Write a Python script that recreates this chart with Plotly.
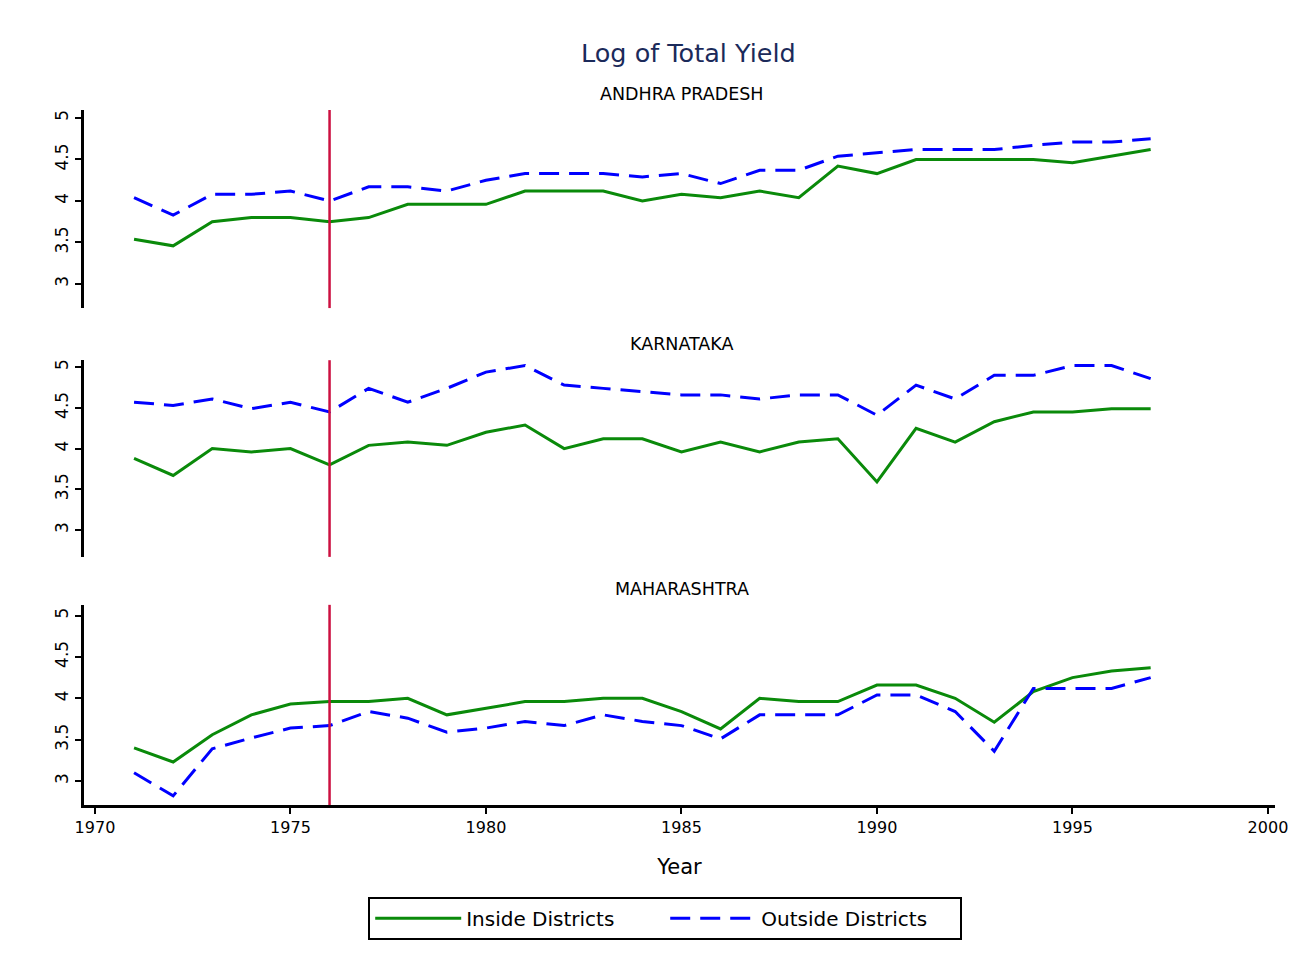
import plotly.graph_objects as go

years = list(range(1971, 1998))
event_year = 1976

ap_inside = [3.54, 3.46, 3.75, 3.80, 3.80, 3.75, 3.80, 3.96, 3.96, 3.96, 4.12, 4.12, 4.12, 4.00,
             4.08, 4.04, 4.12, 4.04, 4.42, 4.33, 4.50, 4.50, 4.50, 4.50, 4.46, 4.54, 4.62]
ap_outside = [4.04, 3.83, 4.08, 4.08, 4.12, 4.00, 4.17, 4.17, 4.12, 4.25, 4.33, 4.33, 4.33, 4.29,
              4.33, 4.21, 4.37, 4.37, 4.54, 4.58, 4.62, 4.62, 4.62, 4.67, 4.71, 4.71, 4.75]
ka_inside = [3.88, 3.67, 4.00, 3.96, 4.00, 3.80, 4.04, 4.08, 4.04, 4.20, 4.29, 4.00, 4.12, 4.12,
             3.96, 4.08, 3.96, 4.08, 4.12, 3.59, 4.25, 4.08, 4.33, 4.45, 4.45, 4.49, 4.49]
ka_outside = [4.57, 4.53, 4.61, 4.49, 4.57, 4.45, 4.74, 4.57, 4.74, 4.94, 5.02, 4.78, 4.74, 4.70,
              4.66, 4.66, 4.61, 4.66, 4.66, 4.41, 4.78, 4.61, 4.90, 4.90, 5.02, 5.02, 4.86]
mh_inside = [3.40, 3.23, 3.56, 3.80, 3.93, 3.96, 3.96, 4.00, 3.80, 3.88, 3.96, 3.96, 4.00, 4.00,
             3.84, 3.63, 4.00, 3.96, 3.96, 4.16, 4.16, 4.00, 3.71, 4.08, 4.25, 4.33, 4.37]
mh_outside = [3.10, 2.82, 3.39, 3.52, 3.64, 3.67, 3.84, 3.76, 3.59, 3.64, 3.72, 3.67, 3.80, 3.72,
              3.67, 3.51, 3.80, 3.80, 3.80, 4.04, 4.04, 3.84, 3.36, 4.12, 4.12, 4.12, 4.25]

states = ["ANDHRA PRADESH", "KARNATAKA", "MAHARASHTRA"]
inside = [ap_inside, ka_inside, mh_inside]
outside = [ap_outside, ka_outside, mh_outside]
series_names = ["Inside Districts", "Outside Districts"]
y_ticks = [3, 3.5, 4, 4.5, 5]
y_ticktext = ["3", "3.5", "4", "4.5", "5"]
x_ticks = [1970, 1975, 1980, 1985, 1990, 1995, 2000]

FONT = "DejaVu Sans"
GREEN = "#0a8a0a"
BLUE = "#0000ff"
RED = "#cc1040"

domains = [[0.715, 1.0], [0.357, 0.640], [0.0, 0.288]]
yranges = [[2.71, 5.096], [2.67, 5.086], [2.71, 5.13]]

fig = go.Figure()
for i in range(3):
    sx = "" if i == 0 else str(i + 1)
    fig.add_trace(go.Scatter(x=years, y=inside[i], mode="lines", name=series_names[0],
                             line=dict(color=GREEN, width=3), showlegend=(i == 0),
                             xaxis="x" + sx, yaxis="y" + sx))
    fig.add_trace(go.Scatter(x=years, y=outside[i], mode="lines", name=series_names[1],
                             line=dict(color=BLUE, width=3, dash="20px,10px"), showlegend=(i == 0),
                             xaxis="x" + sx, yaxis="y" + sx))
    xa = dict(domain=[0, 1], range=[1969.72, 2000.18], anchor="y" + sx,
              showgrid=False, zeroline=False)
    if i == 2:
        xa.update(showline=True, linecolor="black", linewidth=3, ticks="outside",
                  tickwidth=2, ticklen=6, tickcolor="black", tickvals=x_ticks,
                  tickfont=dict(size=16, color="black", family=FONT),
                  title=dict(text="Year", font=dict(size=21, color="black", family=FONT), standoff=24))
    else:
        xa.update(showline=False, showticklabels=False, ticks="", matches="x3")
    ya = dict(domain=domains[i], range=yranges[i], anchor="x" + sx, showgrid=False,
              zeroline=False, showline=True, linecolor="black", linewidth=3,
              ticks="outside", tickwidth=2, ticklen=6, tickcolor="black",
              tickvals=y_ticks, ticktext=y_ticktext, tickangle=-90,
              tickfont=dict(size=17, color="black", family=FONT))
    fig.update_layout({"xaxis" + sx: xa, "yaxis" + sx: ya})
    fig.add_shape(type="line", xref="x" + sx, yref="y" + sx + " domain",
                  x0=event_year, x1=event_year, y0=0, y1=1,
                  line=dict(color=RED, width=2.5))
    fig.add_annotation(text=states[i], xref="paper", yref="y" + sx + " domain",
                       x=0.502, y=1.0, yanchor="bottom", showarrow=False, yshift=4,
                       font=dict(size=17.5, color="black", family=FONT))

fig.add_annotation(text="Log of Total Yield", xref="paper", yref="paper", x=0.5076, y=1.0,
                   yanchor="bottom", yshift=40, showarrow=False,
                   font=dict(size=25.5, color="#1b2a5a", family=FONT))

fig.update_layout(
    width=1298, height=947,
    margin=dict(l=76, r=31, t=102, b=150),
    paper_bgcolor="white", plot_bgcolor="white",
    font=dict(family=FONT, color="black"),
    legend=dict(orientation="h", x=0.488, xanchor="center", y=-0.132, yanchor="top",
                bordercolor="black", borderwidth=2, font=dict(size=20, color="black", family=FONT),
                itemwidth=86, entrywidth=194),
)

fig.write_html("out.html")
